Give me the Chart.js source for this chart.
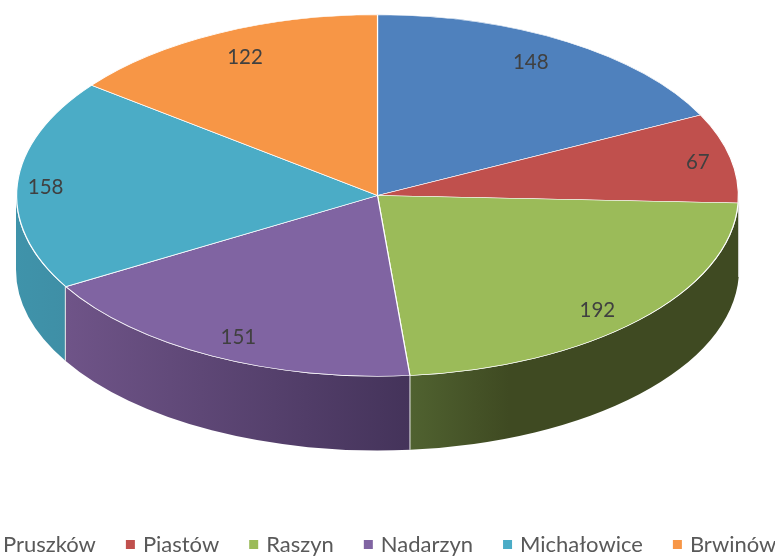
<!DOCTYPE html>
<html>
<head>
<meta charset="utf-8">
<style>
    html, body { margin: 0; padding: 0; background: #ffffff; overflow: hidden; }
    #wrap { width: 775px; height: 556px; }
</style>
<script src="https://cdn.jsdelivr.net/npm/chart.js@4/dist/chart.umd.min.js"></script>
</head>
<body>
<div id="wrap"><canvas id="pieChart" width="775" height="556"></canvas></div>
<script>
const gminy = ["Pruszków", "Piastów", "Raszyn", "Nadarzyn", "Michałowice", "Brwinów"];
const wartosci = [148, 67, 192, 151, 158, 122];

const topColors = ["#4f81bd", "#c0504d", "#9bbb59", "#8064a2", "#4bacc6", "#f79646"];
const wallColors = [
    ["#3a5f8c", "#3a5f8c"],
    ["#632523", "#632523"],
    ["#506230", "#3f4a22"],
    ["#6f5488", "#44335a"],
    ["#3f93aa", "#3f8fa6"],
    ["#b86f30", "#b86f30"]
];
// how far along the radius each value label sits (x, y)
const labelReach = [[0.805, 0.865], [0.906, 0.89], [0.84, 0.92], [0.84, 0.88], [0.92, 0.7], [0.83, 0.85]];

// the pie is a flat circle squeezed into an ellipse
const radiusX = 361.5;
const radiusY = 181;
const depth = 74;
const stretch = radiusX / radiusY;

function wallPath(ctx, x, y, from, to) {
    ctx.beginPath();
    ctx.ellipse(x, y, radiusX, radiusY, 0, from, to);
    ctx.ellipse(x, y + depth, radiusX, radiusY, 0, to, from, true);
    ctx.closePath();
}

const pie3d = {
    id: "pie3d",
    beforeDatasetDraw(chart) {
        const ctx = chart.ctx;
        const arcs = chart.getDatasetMeta(0).data;

        arcs.forEach((arc, i) => {
            const from = Math.max(arc.startAngle, 0);
            const to = Math.min(arc.endAngle, Math.PI);
            if (to <= from) return;
            const x0 = arc.x + radiusX * Math.cos(to);
            const x1 = arc.x + radiusX * Math.cos(from);
            const grad = ctx.createLinearGradient(x0, 0, x1, 0);
            grad.addColorStop(0, wallColors[i][0]);
            grad.addColorStop(i === 2 ? 0.3 : 1, wallColors[i][1]);
            if (i === 2) grad.addColorStop(1, wallColors[i][1]);
            wallPath(ctx, arc.x, arc.y, from, to);
            ctx.fillStyle = grad;
            ctx.fill();
        });

        // white seams where two walls meet
        arcs.forEach(arc => {
            if (arc.endAngle <= 0 || arc.endAngle >= Math.PI) return;
            const x = arc.x + radiusX * Math.cos(arc.endAngle);
            const y = arc.y + radiusY * Math.sin(arc.endAngle);
            ctx.beginPath();
            ctx.moveTo(x, y);
            ctx.lineTo(x, y + depth);
            ctx.strokeStyle = "#e8e8e8";
            ctx.lineWidth = 1;
            ctx.stroke();
        });

        const arc = arcs[0];
        ctx.save();
        ctx.translate(arc.x, arc.y);
        ctx.scale(stretch, 1);
        ctx.translate(-arc.x, -arc.y);
    },
    afterDatasetDraw(chart) {
        chart.ctx.restore();
    },
    afterDraw(chart) {
        const ctx = chart.ctx;
        const arcs = chart.getDatasetMeta(0).data;

        ctx.save();
        ctx.font = "20.5px Lato";
        ctx.fillStyle = "#404040";
        ctx.textAlign = "center";
        ctx.textBaseline = "middle";
        arcs.forEach((arc, i) => {
            const mid = (arc.startAngle + arc.endAngle) / 2;
            const x = arc.x + radiusX * labelReach[i][0] * Math.cos(mid);
            const y = arc.y + radiusY * labelReach[i][1] * Math.sin(mid);
            ctx.fillText(wartosci[i], x, y);
        });

        // legend runs wider than the canvas, first marker gets cut off
        let x = -15;
        ctx.font = "22px Lato";
        ctx.textAlign = "left";
        gminy.forEach((name, i) => {
            ctx.fillStyle = topColors[i];
            ctx.fillRect(x + 1, 540, 9, 9);
            ctx.fillStyle = "#595959";
            ctx.fillText(name, x + 18, 545);
            x += 18 + ctx.measureText(name).width + 29;
        });
        ctx.restore();
    }
};

new Chart(document.getElementById("pieChart").getContext("2d"), {
    type: "pie",
    data: {
        labels: gminy,
        datasets: [{
            data: wartosci,
            backgroundColor: topColors,
            borderColor: "#ffffff",
            borderWidth: 0.6,
            clip: false
        }]
    },
    options: {
        responsive: false,
        animation: false,
        layout: {
            padding: { left: 196.5, right: 216.5, top: 14.5, bottom: 179.5 }
        },
        plugins: {
            legend: { display: false },
            title: { display: false },
            tooltip: { enabled: false }
        }
    },
    plugins: [pie3d]
});
</script>
</body>
</html>
